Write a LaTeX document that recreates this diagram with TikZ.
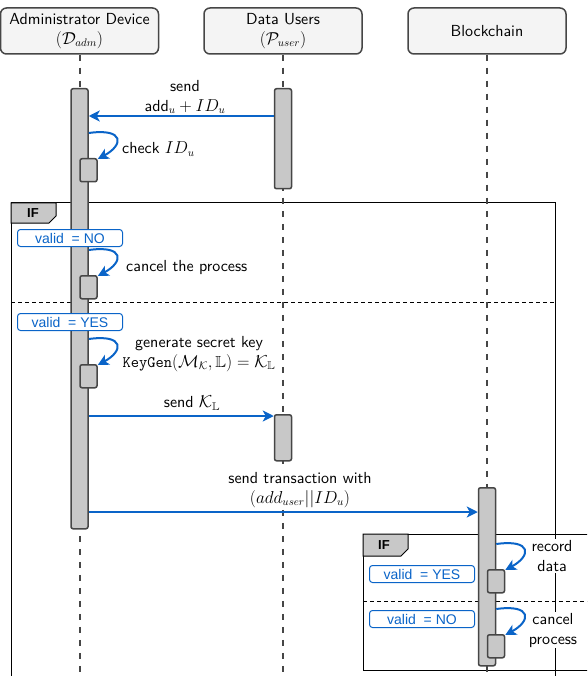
\documentclass[tikz,border=0pt]{standalone}
\usepackage{amsmath,amssymb}
\usepackage{fontspec}
\setsansfont{lmsans10-regular}[Extension=.otf,BoldFont=lmsans10-bold]
\newfontfamily\guardfont{Liberation Sans}
\usetikzlibrary{arrows.meta,calc}
\definecolor{seqblue}{RGB}{10,100,200}
\definecolor{seqgray}{RGB}{200,200,200}
\definecolor{seqedge}{RGB}{70,70,70}
\definecolor{seqhead}{RGB}{244,244,244}
\newcommand{\lblfont}{\sffamily\fontsize{16}{20}\selectfont}
\newcommand{\selfmsg}[2]{% bar, small box
  \draw[msg] ($(#2.north -| #1.east)+(0pt,25pt)$)
    .. controls +(36pt,5pt) and +(26pt,14pt) .. ([yshift=-1pt]#2.north east);}

\begin{document}
\begin{tikzpicture}[x=1pt,y=-1pt,
    head/.style={draw=seqedge,line width=1.5pt,fill=seqhead,rounded corners=6pt,
                 minimum width=158pt,minimum height=46pt,align=center,
                 font=\lblfont,inner sep=1pt},
    lifeline/.style={draw=seqedge,line width=2pt,dash pattern=on 6pt off 7pt},
    actbar/.style={draw=seqedge,line width=1.5pt,fill=seqgray,rounded corners=2pt,
                   minimum width=17pt,anchor=north,inner sep=0pt},
    selfbox/.style={actbar,minimum height=23pt},
    msg/.style={-{Stealth[length=11pt,width=11pt,inset=3pt]},draw=seqblue,line width=2pt},
    lbl/.style={font=\lblfont,align=center,fill=white,inner sep=1pt},
    guard/.style={draw=seqblue,line width=1pt,fill=white,rounded corners=3pt,
                  minimum width=105pt,minimum height=17pt,inner sep=0pt,anchor=north west,
                  text=seqblue,font=\guardfont\fontsize{14}{16}\selectfont},
    frm/.style={draw=black,line width=1pt},
    altsep/.style={draw=black,line width=1pt,dash pattern=on 4pt off 3pt},
    iftab/.style={frm,fill=seqgray},
    iflbl/.style={font=\guardfont\bfseries\fontsize{13}{15}\selectfont}]

  \useasboundingbox (0,0) rectangle (587,676);
  \clip (0,0) rectangle (587,676);

  % IF frames
  \draw[frm] (11,203) rectangle (555,700);
  \draw[iftab] (11,203) -- (56,203) -- (56,216) -- (49,223) -- (11,223) -- cycle;
  \node[iflbl] (ifout) at (33,213) {IF};
  \draw[altsep] (11,302) -- (555,302);

  \draw[frm] (363,534) rectangle (600,670);
  \draw[iftab] (363,534) -- (408,534) -- (408,549) -- (401,556) -- (363,556) -- cycle;
  \node[iflbl] (ifin) at (384,545) {IF};
  \draw[altsep] (363,601) -- (600,601);

  % participants
  \node[head] (adm) at (79.5,31) {Administrator Device\\$(\mathcal{D}_{adm})$};
  \node[head] (usr) at (283,31)  {Data Users\\$(\mathcal{P}_{user})$};
  \node[head] (chn) at (487,31)  {Blockchain};

  \coordinate (admend) at (adm.south |- 0,680);
  \coordinate (usrend) at (usr.south |- 0,680);
  \coordinate (chnend) at (chn.south |- 0,680);
  \draw[lifeline] (adm.south) -- (admend);
  \draw[lifeline] (usr.south) -- (usrend);
  \draw[lifeline] (chn.south) -- (chnend);

  % activation bars
  \node[actbar,minimum height=440pt] (admbar) at (79.5,88) {};
  \node[actbar,minimum height=100pt] (usrbar) at (283,88)  {};
  \node[actbar,minimum height=46pt]  (keybar) at (283,414) {};
  \node[actbar,minimum height=178pt] (chnbar) at (487,487) {};

  \node[selfbox] (chk) at (88.5,158) {};
  \node[selfbox] (cnl) at (88.5,275) {};
  \node[selfbox] (gen) at (88.5,364) {};
  \node[selfbox] (rec) at (496,569)  {};
  \node[selfbox] (cnp) at (496,634)  {};

  % guards
  \node[guard] (gno)   at (17,229)  {valid~~= NO};
  \node[guard] (gyes)  at (17,313)  {valid~~= YES};
  \node[guard] (gyes2) at (369,565) {valid~~= YES};
  \node[guard] (gno2)  at (369,610) {valid~~= NO};

  % labels
  \node[lbl] (m1lbl) at (185,97) {send\\$\textsf{add}_u + ID_u$};
  \node[lbl,anchor=west] (chklbl) at (121,149) {check $ID_u$};
  \node[lbl,anchor=west] (cnllbl) at (125,267) {cancel the process};
  \node[lbl] (genlbl) at (199,354)
    {generate secret key\\$\texttt{KeyGen}(\mathcal{M}_{\mathcal{K}},\mathbb{L})=\mathcal{K}_{\mathbb{L}}$};
  \node[lbl] (m2lbl) at (192,403) {send $\mathcal{K}_{\mathbb{L}}$};
  \node[lbl] (m3lbl) at (300,490) {send transaction with\\$(add_{user}||ID_u)$};
  \node[lbl] (reclbl) at (552,556) {record\\data};
  \node[lbl] (cnplbl) at (553,630) {cancel\\process};

  % messages
  \coordinate (m1) at ([yshift=-28pt]usrbar.north west);
  \draw[msg] (m1) -- (m1 -| admbar.east);
  \selfmsg{admbar}{chk}
  \selfmsg{admbar}{cnl}
  \selfmsg{admbar}{gen}

  \coordinate (m2) at ([yshift=-2pt]keybar.north west);
  \draw[msg] (m2 -| admbar.east) -- (m2);

  \coordinate (m3) at ([yshift=-25pt]chnbar.north west);
  \draw[msg] (m3 -| admbar.east) -- (m3);

  \selfmsg{chnbar}{rec}
  \selfmsg{chnbar}{cnp}
\end{tikzpicture}
\end{document}
